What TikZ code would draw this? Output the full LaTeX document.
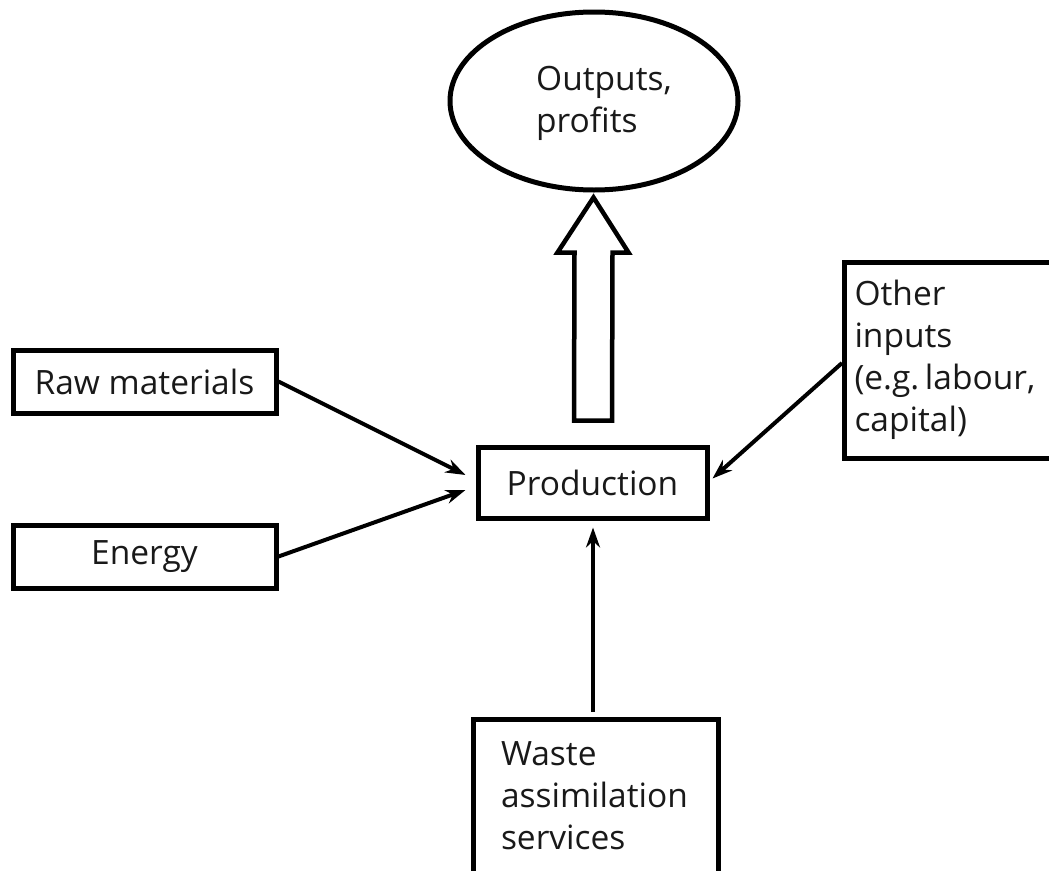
\documentclass[tikz,border=0pt]{standalone}
\usepackage{fontspec}
\setmainfont{Open Sans}
\usetikzlibrary{arrows.meta,calc,shapes.geometric}
\begin{document}
\begin{tikzpicture}[x=1pt,y=-1pt,
  every node/.style={font=\fontsize{33.5}{42}\selectfont, text=black!90},
  box/.style={draw, line width=5pt, inner sep=0pt},
  conn/.style={line width=4pt, -{Stealth[length=20pt,width=14pt]}},
  hollow/.style={draw, line width=4.5pt, fill=white, line join=miter}]
\useasboundingbox (0,0) rectangle (1049,870);
\clip (0,0) rectangle (1049,870);
\node[box, ellipse, minimum width=288pt, minimum height=178pt] (out) at (594,101) {};
\node[align=left, anchor=center] (outtxt) at (604,103) {Outputs,\\profits};
\node[box, minimum width=263pt, minimum height=63pt] (raw) at (144.5,381.5) {Raw materials};
\node[box, minimum width=263pt, minimum height=63pt] (energy) at (144.5,556.5) {Energy};
\node[box, minimum width=229pt, minimum height=71pt] (prod) at (592.5,482.5) {Production};
\node[box, anchor=west, minimum height=196pt, inner xsep=10pt] (other) at (842,360)
  {\parbox[c]{240pt}{\raggedright Other\\inputs\\(e.g.\,labour,\\capital)}};
\node[box, anchor=north, inner xsep=28pt, inner ysep=0pt] (waste) at (595.5,717)
  {\parbox[c][200pt][t]{189pt}{\raggedright\vspace{22pt}Waste\\assimilation\\services}};
\draw[conn] (raw.east) -- ($(prod.west)+(-10,-7.5)$);
\draw[conn] (energy.east) -- ($(prod.west)+(-10,7.5)$);
\draw[conn] ($(other.west)+(0,3)$) -- ($(prod.east)+(3,-4)$);
\draw[conn] ($(prod.south)+(0.5,191)$) -- ($(prod.south)+(0.5,7)$);
\coordinate (sb) at ($(prod.north)+(0.5,-24)$);
\coordinate (tip) at ($(out.south)+(-0.5,5)$);
\draw[hollow] ($(sb)+(-19,0)$) -- ($(sb)+(19,0)$) -- ($(tip)+(19,55)$) -- ($(tip)+(35,55)$)
  -- (tip) -- ($(tip)+(-36,55)$) -- ($(tip)+(-19,55)$) -- cycle;
\end{tikzpicture}
\end{document}
